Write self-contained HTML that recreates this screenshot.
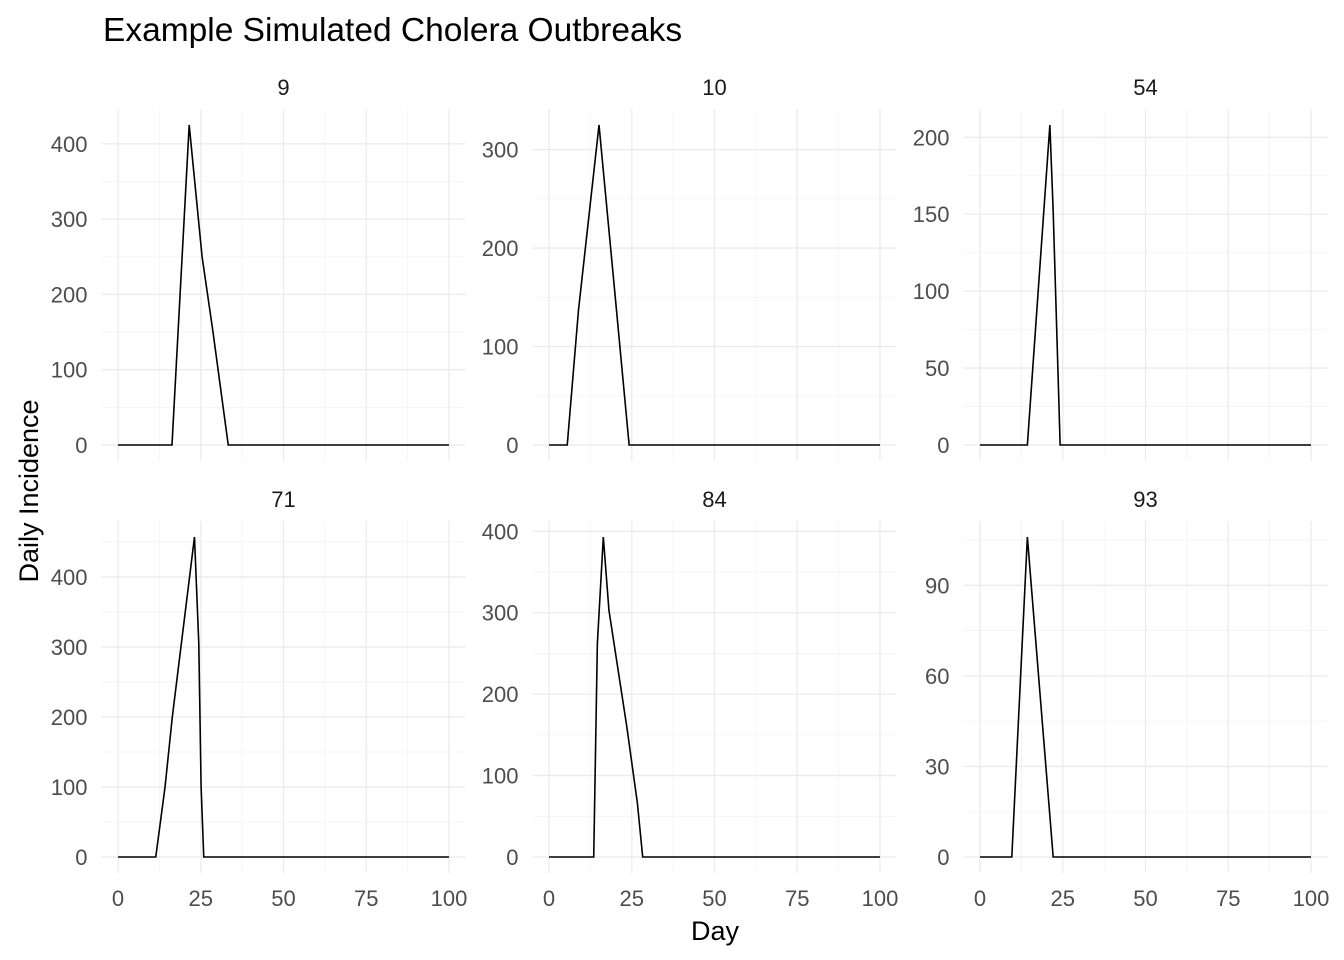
<!DOCTYPE html>
<html><head><meta charset="utf-8"><style>
body{margin:0;background:#fff}
svg{display:block;font-family:"Liberation Sans",Arial,sans-serif}
</style></head><body>
<svg id="c" width="1344" height="960"></svg>
<script>
const panelIds=["9","10","54","71","84","93"];
const days9=[0,16.3,21.5,25.4,28.6,33.3,100];
const vals9=[0,0,425,250,153,0,0];
const days10=[0,5.5,8.9,15.1,20.1,24.2,100];
const vals10=[0,0,137,325,147,0,0];
const days54=[0,14.3,21.1,22.1,23.6,24.2,100];
const vals54=[0,0,208,152,44,0,0];
const days71=[0,11.4,14.2,16.4,23.1,24.4,25.1,25.9,100];
const vals71=[0,0,100,200,457,305,100,0,0];
const days84=[0,13.5,14.6,16.4,18.1,23.5,26.7,28.3,100];
const vals84=[0,0,262,393,303,160,66,0,0];
const days93=[0,9.6,14.3,22.1,100];
const vals93=[0,0,106,0,0];
const yTicks9=[0,100,200,300,400];
const yTicks10=[0,100,200,300];
const yTicks54=[0,50,100,150,200];
const yTicks71=[0,100,200,300,400];
const yTicks84=[0,100,200,300,400];
const yTicks93=[0,30,60,90];
const xTicks=[0,25,50,75,100];

const D={"9":[days9,vals9,yTicks9],"10":[days10,vals10,yTicks10],"54":[days54,vals54,yTicks54],"71":[days71,vals71,yTicks71],"84":[days84,vals84,yTicks84],"93":[days93,vals93,yTicks93]};
const NS="http://www.w3.org/2000/svg";
const svg=document.getElementById('c');
function mk(t,a,p){const e=document.createElementNS(NS,t);for(const k in a)e.setAttribute(k,a[k]);(p||svg).appendChild(e);return e;}
const colX=[101.5,532.5,963.5], W=364;
const rowY=[109,521], H=352;
panelIds.forEach((id,i)=>{
  const [dx,vy,yt]=D[id];
  const x0=colX[i%3], y0=rowY[Math.floor(i/3)];
  const g=mk('g',{});
  
  
  const xs=d=>x0+(d+5)/110*W;
  const ymax=Math.max(...vy), pad=ymax*0.05;
  const ys=v=>y0+H-(v+pad)/(ymax*1.1)*H;
  for(let k=0;k<xTicks.length-1;k++){const m=(xTicks[k]+xTicks[k+1])/2;mk('line',{x1:xs(m),x2:xs(m),y1:y0,y2:y0+H,stroke:'#f3f3f3','stroke-width':0.8},g);}
  for(let k=0;k<yt.length;k++){const st=yt[1]-yt[0];const m=yt[k]+st/2;if(ys(m)>=y0)mk('line',{x1:x0,x2:x0+W,y1:ys(m),y2:ys(m),stroke:'#f3f3f3','stroke-width':0.8},g);}
  xTicks.forEach(t=>{mk('line',{x1:xs(t),x2:xs(t),y1:y0,y2:y0+H,stroke:'#ebebeb','stroke-width':1.3},g);});
  yt.forEach(t=>{mk('line',{x1:x0,x2:x0+W,y1:ys(t),y2:ys(t),stroke:'#ebebeb','stroke-width':1.3},g);
    const tx=mk('text',{x:x0-14,y:ys(t)+8,'text-anchor':'end','font-size':'22','fill':'#4d4d4d'},g);tx.textContent=t;
    });
  if(i>=3){xTicks.forEach(t=>{const tx=mk('text',{x:xs(t),y:906,'text-anchor':'middle','font-size':'22','fill':'#4d4d4d'},g);tx.textContent=t;
    });}
  const st=mk('text',{x:x0+W/2,y:y0-14,'text-anchor':'middle','font-size':'22','fill':'#1a1a1a'},g);st.textContent=id;
  
  const pts=dx.map((d,k)=>xs(d)+','+ys(vy[k])).join(' ');
  const pl=mk('polyline',{points:pts,fill:'none',stroke:'#000','stroke-width':1.6},g);
  
});
const t=mk('text',{x:103,y:41,'font-size':'33.5','fill':'#000'});t.textContent='Example Simulated Cholera Outbreaks';

const xl=mk('text',{x:715,y:940,'text-anchor':'middle','font-size':'27','fill':'#000'});xl.textContent='Day';

const yl=mk('text',{x:0,y:0,'text-anchor':'middle','font-size':'27','fill':'#000',transform:'translate(38,491) rotate(-90)'});yl.textContent='Daily Incidence';

</script>
</body></html>
